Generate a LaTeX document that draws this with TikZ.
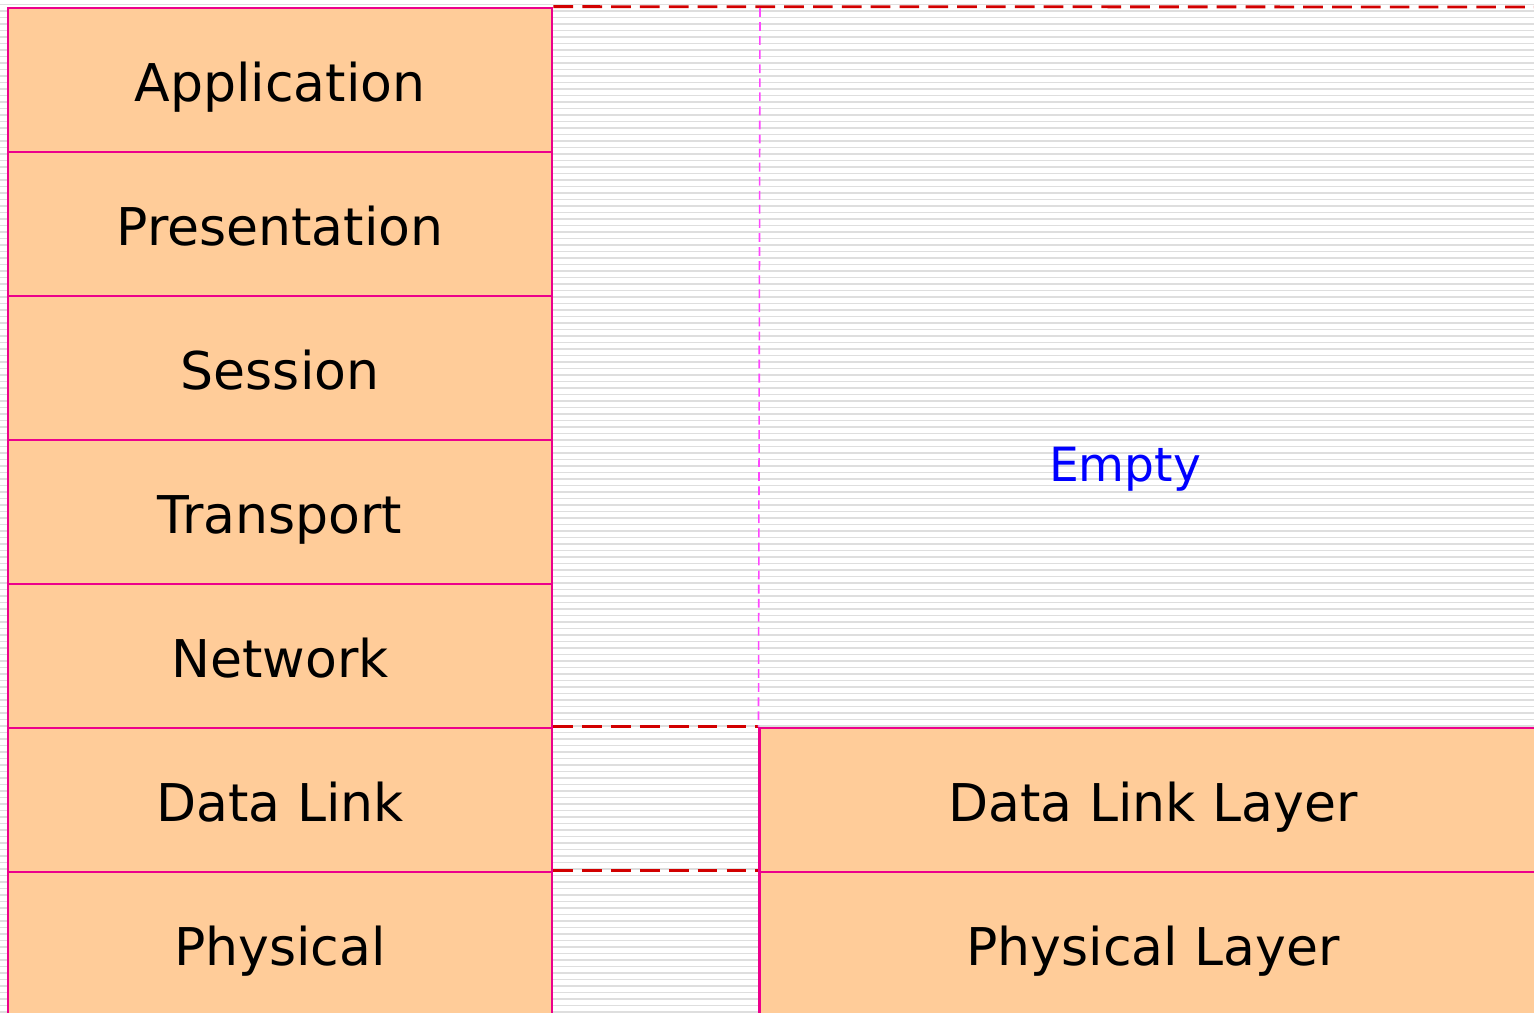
\documentclass[tikz,border=0pt]{standalone}
\usepackage{fontspec}
\setmainfont{DejaVu Sans}

\definecolor{peach}{RGB}{255,204,153}
\definecolor{stripe}{RGB}{222,222,222}
\definecolor{gapred}{RGB}{210,0,0}
\definecolor{pinkline}{RGB}{255,70,255}

\tikzset{
  layer/.style={draw=magenta, line width=0.75pt, fill=peach, inner sep=0pt,
    minimum width=5.44cm, minimum height=1.44cm, text height=12pt, text depth=0pt,
    font=\fontsize{14.8}{16}\selectfont},
  wide/.style={layer, minimum width=7.86cm},
  gap/.style={draw=gapred, line width=0.8pt, dash pattern=on 5.6pt off 2.6pt},
}

\begin{document}
\begin{tikzpicture}[x=0.01cm, y=-0.01cm]
  \useasboundingbox (0,0) rectangle (1534,1012);
  \clip (0,0) rectangle (1534,1012);
  % striped background
  \foreach \y in {4.5,11,...,1012}
    \draw[stripe, line width=0.55pt] (0,\y) -- (1534,\y);
  % the seven layers
  \node[layer] (app)   at (280,80)  {Application};
  \node[layer] (pres)  at (280,224) {Presentation};
  \node[layer] (sess)  at (280,368) {Session};
  \node[layer] (trans) at (280,512) {Transport};
  \node[layer] (net)   at (280,656) {Network};
  \node[layer] (dlink) at (280,800) {Data Link};
  \node[layer] (phys)  at (280,944) {Physical};
  % the two layers on the right
  \node[wide] (dlinkR) at (1153,800) {Data Link Layer};
  \node[wide] (physR)  at (1153,944) {Physical Layer};
  \node[text=blue, font=\fontsize{13.4}{15}\selectfont] (empty) at (1125,469) {Empty};
  % gaps between the stacks
  \coordinate (topR) at (1534,7);
  \coordinate (midtop) at (760,8);
  \draw[gap] (app.north east) -- (topR);
  \draw[gap] (dlink.north east) -- (dlinkR.north west);
  \draw[gap] (phys.north east) -- (physR.north west);
  \draw[pinkline, line width=0.45pt, dash pattern=on 2.5pt off 1.5pt] (midtop) -- (dlinkR.north west);
\end{tikzpicture}
\end{document}
